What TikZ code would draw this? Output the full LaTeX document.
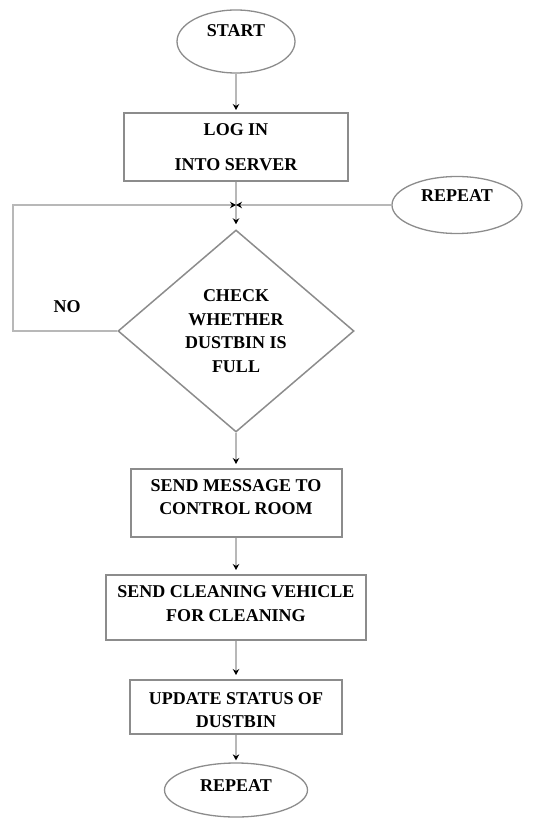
\documentclass[tikz,border=0pt]{standalone}
\usepackage{fontspec}
\setmainfont{Liberation Serif}
\usetikzlibrary{shapes,arrows.meta,positioning}
\definecolor{boxgray}{gray}{0.55}
\definecolor{linegray}{gray}{0.72}
\tikzstyle{flowbox}=[rectangle, draw=boxgray, line width=2pt, align=center, inner sep=0pt]
\tikzstyle{termoval}=[ellipse, draw=boxgray, line width=1.3pt, inner sep=0pt]
\tikzstyle{checkdiamond}=[diamond, draw=boxgray, line width=1.5pt, align=center, inner sep=0pt]
\tikzstyle{flowline}=[draw=linegray, line width=2.2pt]

\begin{document}
\begin{tikzpicture}[x=1pt, y=-1pt, >={Stealth[black,length=6pt,width=6.5pt]},
  every node/.style = {font=\fontsize{18}{23.5}\selectfont\bfseries}]
\useasboundingbox (0,0) rectangle (543,818);

\node[termoval, minimum width=118pt, minimum height=63pt] (start) at (236,41.5) {\raisebox{5pt}[0pt][0pt]{START}};
\node[flowbox, minimum width=224pt, minimum height=68pt] (login) at (236,147) {LOG IN\\[11.5pt]INTO SERVER};
\node[termoval, minimum width=130pt, minimum height=57pt] (repeattop) at (457,205) {\raisebox{3pt}[0pt][0pt]{REPEAT}};
\node[checkdiamond, minimum width=236pt, minimum height=202pt] (check) at (236,331) {CHECK\\WHETHER\\DUSTBIN IS\\FULL};
\node[flowbox, minimum width=211pt, minimum height=68pt] (msg) at (236,503) {SEND MESSAGE TO\\CONTROL ROOM\\[-11.5pt]\mbox{}};
\node[flowbox, minimum width=260pt, minimum height=65pt] (vehicle) at (236,607.5) {SEND CLEANING VEHICLE\\FOR CLEANING\\[-15.5pt]\mbox{}};
\node[flowbox, minimum width=212pt, minimum height=54pt] (update) at (236,707) {\mbox{}\\[-5.5pt]UPDATE STATUS OF\\DUSTBIN};
\node[termoval, minimum width=143pt, minimum height=54pt] (repeatend) at (236,790) {\raisebox{-1pt}[0pt][0pt]{REPEAT}};

\coordinate (merge) at (236,205);
\coordinate (nocorner) at (13,331);

\draw[flowline,->,shorten >=2pt](start.south) -- (login.north);
\draw[flowline](login.south) -- (merge);
\draw[flowline,->,shorten >=5pt](merge) -- (check.north);
\draw[flowline,->](repeattop.west) -- (merge);
\draw[flowline,->](check.west) -- node[above=14pt, pos=0.48] {NO} (nocorner) |- (merge);
\draw[flowline,->,shorten >=4pt](check.south) -- (msg.north);
\draw[flowline,->,shorten >=4pt](msg.south) -- (vehicle.north);
\draw[flowline,->,shorten >=4pt](vehicle.south) -- (update.north);
\draw[flowline,->,shorten >=2pt](update.south) -- (repeatend.north);

\end{tikzpicture}
\end{document}
